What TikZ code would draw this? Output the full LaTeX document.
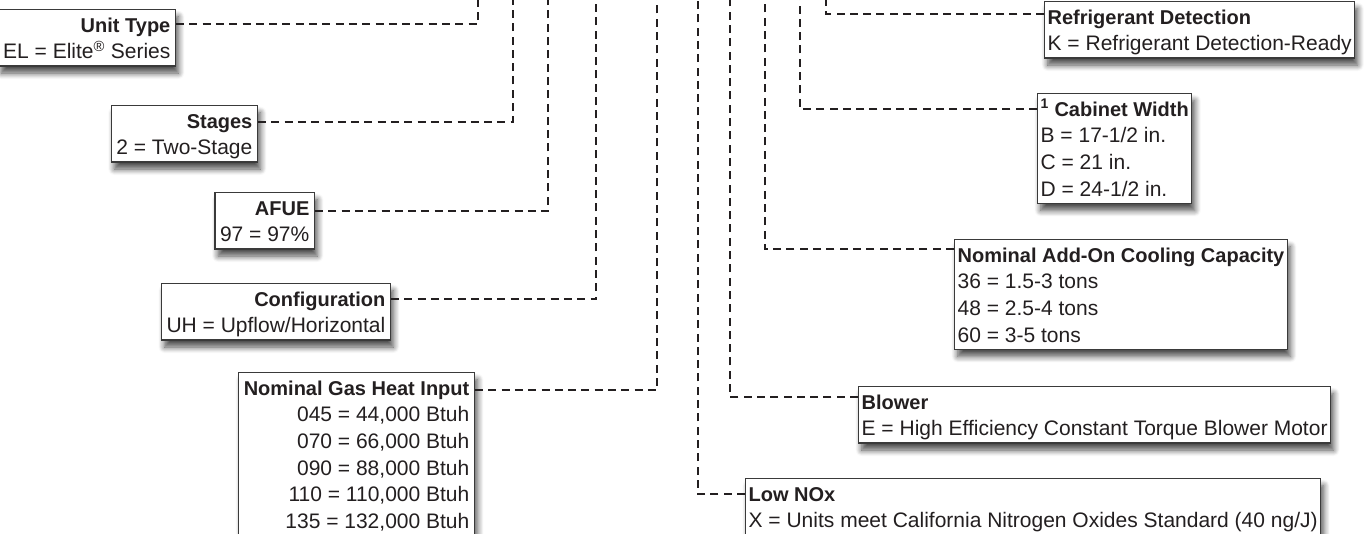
\documentclass[tikz,border=0pt]{standalone}
\usepackage{fontspec}
\setmainfont{Liberation Sans}
\usetikzlibrary{shadows.blur}
\definecolor{inkline}{HTML}{231F20}
\definecolor{boxline}{HTML}{3A3A3A}
\newcommand{\rowstrut}{\rule[-5.7pt]{0pt}{26.7pt}}
\newcommand{\hdr}[1]{{\fontsize{20}{26.7}\selectfont\bfseries #1}}

\tikzset{
  codebox/.style={draw=boxline, line width=1.3pt, fill=white, inner ysep=1.5pt,
    font=\fontsize{21}{26.7}\selectfont, text=inkline,
    blur shadow={shadow xshift=3pt, shadow yshift=-7pt, shadow blur radius=6pt,
      shadow blur steps=8, shadow opacity=70}},
  leftbox/.style={codebox, anchor=north east, align=right, inner xsep=5pt},
  rightbox/.style={codebox, anchor=north west, align=left, inner xsep=3pt},
  lead/.style={draw=inkline, line width=2.8pt, dash pattern=on 8pt off 5.3pt}
}

\begin{document}
\begin{tikzpicture}[x=1pt, y=-1pt]
  \useasboundingbox (0,0) rectangle (1367,533);
  \clip (0,0) rectangle (1367,533);
  \coordinate (top) at (0,-4);

  % Left column of boxes (right aligned)
  \node[leftbox] (unit) at (176,9)
    {\rowstrut\hdr{Unit Type}\\\rowstrut EL = Elite\textsuperscript{®} Series};
  \node[leftbox] (stages) at (258,105)
    {\rowstrut\hdr{Stages}\\\rowstrut 2 = Two-Stage};
  \node[leftbox] (afue) at (315,192)
    {\rowstrut\hdr{AFUE}\\\rowstrut 97 = 97\%};
  \node[leftbox] (config) at (391,283)
    {\rowstrut\hdr{Configuration}\\\rowstrut UH = Upflow/Horizontal};
  \node[leftbox] (gas) at (475,372)
    {\rowstrut\hdr{Nominal Gas Heat Input}\\
     \rowstrut 045 = 44,000 Btuh\\
     \rowstrut 070 = 66,000 Btuh\\
     \rowstrut 090 = 88,000 Btuh\\
     \rowstrut 110 = 110,000 Btuh\\
     \rowstrut 135 = 132,000 Btuh};

  % Right column of boxes (left aligned)
  \node[rightbox] (refdet) at (1044,1)
    {\rowstrut\hdr{Refrigerant Detection}\\\rowstrut K = Refrigerant Detection-Ready};
  \node[rightbox] (cabinet) at (1037,93)
    {\rowstrut\hdr{\textsuperscript{1} Cabinet Width}\\
     \rowstrut B = 17-1/2 in.\\
     \rowstrut C = 21 in.\\
     \rowstrut D = 24-1/2 in.};
  \node[rightbox] (cooling) at (954,239)
    {\rowstrut\hdr{Nominal Add-On Cooling Capacity}\\
     \rowstrut 36 = 1.5-3 tons\\
     \rowstrut 48 = 2.5-4 tons\\
     \rowstrut 60 = 3-5 tons};
  \node[rightbox] (blower) at (858,386)
    {\rowstrut\hdr{Blower}\\\rowstrut E = High Efficiency Constant Torque Blower Motor};
  \node[rightbox] (lownox) at (745,478)
    {\rowstrut\hdr{Low NOx}\\\rowstrut X = Units meet California Nitrogen Oxides Standard (40 ng/J)};

  % Elbows of the leads
  \coordinate (kunit)    at (478,24);
  \coordinate (kstages)  at (513,122);
  \coordinate (kafue)    at (548,211);
  \coordinate (kconfig)  at (596,299);
  \coordinate (kgas)     at (657,390);
  \coordinate (klownox)  at (698,494);
  \coordinate (kblower)  at (730,397);
  \coordinate (kcooling) at (765,249);
  \coordinate (kcabinet) at (800,109);
  \coordinate (krefdet)  at (826,14);

  % Leads up to the model number
  \draw[lead] (unit.east |- kunit) -- (kunit) -- (kunit |- top);
  \draw[lead] (stages.east |- kstages) -- (kstages) -- (kstages |- top);
  \draw[lead] (afue.east |- kafue) -- (kafue) -- (kafue |- top);
  \draw[lead] (config.east |- kconfig) -- (kconfig) -- (kconfig |- top);
  \draw[lead] (gas.east |- kgas) -- (kgas) -- (kgas |- top);
  \draw[lead] (lownox.west |- klownox) -- (klownox) -- (klownox |- top);
  \draw[lead] (blower.west |- kblower) -- (kblower) -- (kblower |- top);
  \draw[lead] (cooling.west |- kcooling) -- (kcooling) -- (kcooling |- top);
  \draw[lead] (cabinet.west |- kcabinet) -- (kcabinet) -- (kcabinet |- top);
  \draw[lead] (refdet.west |- krefdet) -- (krefdet) -- (krefdet |- top);
\end{tikzpicture}
\end{document}
